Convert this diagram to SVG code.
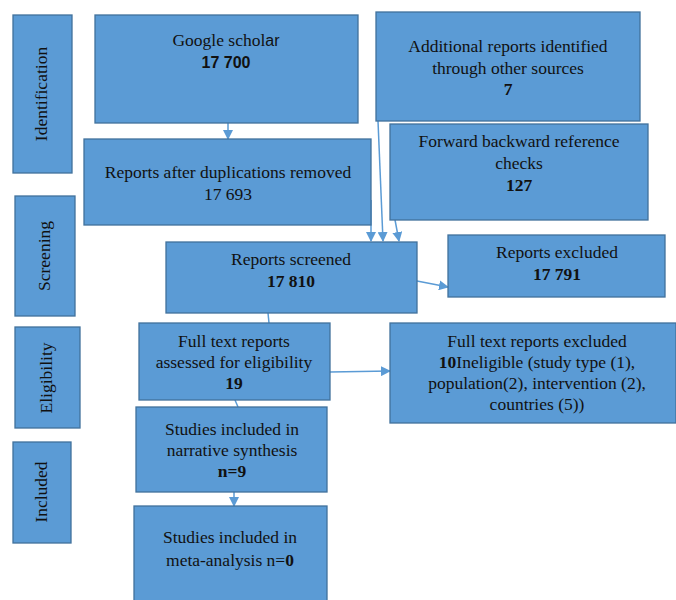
<svg xmlns="http://www.w3.org/2000/svg" width="676" height="600" viewBox="0 0 676 600">
<defs>
<marker id="ah" markerWidth="10" markerHeight="10" refX="9" refY="5" orient="auto" markerUnits="userSpaceOnUse">
<path d="M0,0 L10,5 L0,10 Z" fill="#5B9BD5"/>
</marker>
<style>
.box{fill:#5B9BD5;stroke:#41719C;stroke-width:1.3}
.t{font-family:'Liberation Serif','Times New Roman',serif;font-size:17.5px;fill:#111;text-anchor:middle}
.b{font-weight:bold}
.s{font-family:'Liberation Sans',Arial,sans-serif;font-size:16px}
.c{stroke:#5B9BD5;stroke-width:1.5;fill:none}
.ca{stroke:#5B9BD5;stroke-width:1.5;fill:none;marker-end:url(#ah)}
</style>
</defs>
<rect width="676" height="600" fill="#fff"/>
<g id="stage-identification"><rect class="box" x="13" y="15" width="59" height="158"/><text class="t" transform="translate(47,94) rotate(-90)">Identification</text></g>
<g id="stage-screening"><rect class="box" x="15" y="196" width="60" height="120"/><text class="t" transform="translate(50,256) rotate(-90)">Screening</text></g>
<g id="stage-eligibility"><rect class="box" x="15" y="327" width="65" height="101"/><text class="t" transform="translate(52,378) rotate(-90)">Eligibility</text></g>
<g id="stage-included"><rect class="box" x="13" y="442" width="58" height="101"/><text class="t" transform="translate(47,492) rotate(-90)">Included</text></g>

<g id="connectors">
<line class="ca" x1="228" y1="123" x2="228" y2="139"/>
<line class="ca" x1="371" y1="200" x2="371" y2="241"/>
<line class="ca" x1="378" y1="121" x2="383" y2="241"/>
<line class="ca" x1="395" y1="220" x2="399" y2="241"/>
<line class="ca" x1="417" y1="281" x2="448" y2="287"/>
<line class="c" x1="268" y1="313" x2="269" y2="323"/>
<line class="ca" x1="330" y1="372" x2="390" y2="371"/>
<line class="c" x1="235" y1="400" x2="238" y2="407"/>
<line class="ca" x1="234" y1="492" x2="234" y2="506"/>
</g>

<g id="google-scholar"><rect class="box" x="95" y="15" width="263" height="108"/><text class="t" x="226" y="46">Google schol<tspan class="s">ar</tspan></text><text class="t s b" x="226" y="68">17 700</text></g>
<g id="additional-reports"><rect class="box" x="376" y="12" width="264" height="109"/><text class="t" x="508" y="52">Additional reports identified</text><text class="t" x="508" y="74">through other sources</text><text class="t b" x="508" y="95">7</text></g>
<g id="forward-backward"><rect class="box" x="390" y="124" width="258" height="96"/><text class="t" x="519" y="147">Forward backward reference</text><text class="t" x="519" y="169">checks</text><text class="t b" x="519" y="191">127</text></g>
<g id="after-duplicates"><rect class="box" x="84" y="139" width="287" height="86"/><text class="t" x="228" y="178">Reports after duplications removed</text><text class="t" x="228" y="200">17 693</text></g>
<g id="reports-screened"><rect class="box" x="166" y="242" width="251" height="71"/><text class="t" x="291" y="265">Reports screened</text><text class="t b" x="291" y="287">17 810</text></g>
<g id="reports-excluded"><rect class="box" x="448" y="235" width="217" height="62"/><text class="t" x="557" y="258">Reports excluded</text><text class="t b" x="557" y="280">17 791</text></g>
<g id="full-text-assessed"><rect class="box" x="139" y="323" width="191" height="77"/><text class="t" x="234" y="347">Full text reports</text><text class="t" x="234" y="368">assessed for eligibility</text><text class="t b" x="234" y="389">19</text></g>
<g id="full-text-excluded"><rect class="box" x="390" y="323" width="286" height="100"/><text class="t" x="537" y="347">Full text reports excluded</text><text class="t" x="537" y="368"><tspan class="b">10</tspan>Ineligible (study type (1),</text><text class="t" x="537" y="389">population(2), intervention (2),</text><text class="t" x="537" y="410">countries (5))</text></g>
<g id="narrative-synthesis"><rect class="box" x="136" y="407" width="191" height="85"/><text class="t" x="232" y="435">Studies included in</text><text class="t" x="232" y="456">narrative synthesis</text><text class="t b" x="232" y="477">n=9</text></g>
<g id="meta-analysis"><rect class="box" x="134" y="506" width="193" height="100"/><text class="t" x="230" y="543">Studies included in</text><text class="t" x="230" y="566">meta-analysis n=<tspan class="b">0</tspan></text></g>
</svg>
